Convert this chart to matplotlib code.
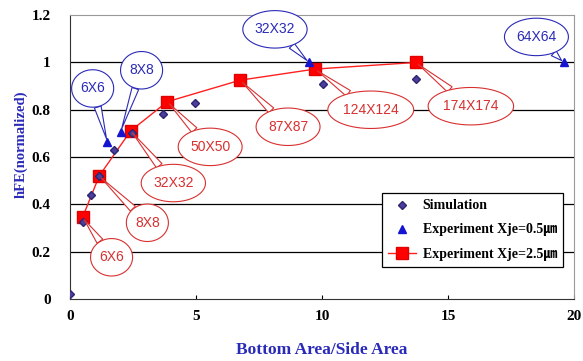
import matplotlib
matplotlib.use("Agg")
import matplotlib.pyplot as plt
import numpy as np
from matplotlib.path import Path

# Simulation
sim_x = [0.0, 0.52, 0.82, 1.15, 1.76, 2.45, 3.70, 4.96, 10.05, 13.72]
sim_y = [0.02, 0.327, 0.44, 0.52, 0.63, 0.70, 0.78, 0.827, 0.908, 0.929]

# Experiment Xje=0.5um
e05_x = [1.48, 2.01, 9.48, 19.58]
e05_y = [0.665, 0.707, 1.0, 1.0]
e05_lab = ["6X6", "8X8", "32X32", "64X64"]
e05_txt = [(0.9, 0.89), (2.84, 0.967), (8.13, 1.14), (18.5, 1.108)]

# Experiment Xje=2.5um
e25_x = [0.50, 1.16, 2.41, 3.86, 6.75, 9.72, 13.72]
e25_y = [0.345, 0.52, 0.711, 0.834, 0.925, 0.972, 1.0]
e25_lab = ["6X6", "8X8", "32X32", "50X50", "87X87", "124X124", "174X174"]
e25_txt = [(1.65, 0.176), (3.07, 0.322), (4.1, 0.49), (5.56, 0.643),
           (8.65, 0.728), (11.93, 0.80), (15.9, 0.815)]

serif = "Liberation Serif"
blue_lab = "#2a2ab8"


def bubble(x0, y0, width, height, mutation_size):
    # ellipse with more room above/below than at the sides
    px = 0.18 * mutation_size
    py = 0.45 * mutation_size
    cx, cy = x0 + width / 2, y0 + height / 2
    a = np.sqrt(2) * (width / 2 + px)
    b = np.sqrt(2) * (height / 2 + py)
    t = np.linspace(0, 2 * np.pi, 60)
    verts = np.column_stack([cx + a * np.cos(t), cy + b * np.sin(t)])
    return Path(verts, closed=True)


def callout(lab, txt, pt, col):
    ax.annotate(lab, xy=pt, xytext=txt, color=col,
                fontsize=10, family="Liberation Sans", ha="center", va="center",
                bbox=dict(boxstyle=bubble, fc="white", ec=col, lw=0.8),
                arrowprops=dict(arrowstyle="wedge,tail_width=0.5", fc="white",
                                ec=col, lw=0.8, shrinkA=0, shrinkB=2),
                zorder=5)


fig = plt.figure(figsize=(5.83, 3.61), dpi=100)
ax = fig.add_axes([0.120, 0.172, 0.865, 0.786])

ax.set_xlim(0, 20)
ax.set_ylim(0, 1.2)
ax.set_xticks([0, 5, 10, 15, 20])
ax.set_yticks([0, 0.2, 0.4, 0.6, 0.8, 1.0, 1.2])
ax.set_yticklabels(["0", "0.2", "0.4", "0.6", "0.8", "1", "1.2"])
for y in [0.2, 0.4, 0.6, 0.8, 1.0]:
    ax.axhline(y, color="black", lw=0.9, zorder=1)

ax.plot(sim_x, sim_y, ls="none", marker="D", ms=4.5, color="#4a3f9c",
        mec="#2e2470", label="Simulation", zorder=4)
ax.plot(e05_x, e05_y, ls="none", marker="^", ms=6, color="#1515d0",
        mec="#1515d0", label="Experiment Xje=0.5㎛", zorder=4)
ax.plot(e25_x, e25_y, color="#ff2020", lw=1.0, marker="s", ms=8.5,
        mfc="#ff0000", mec="#e00000", label="Experiment Xje=2.5㎛", zorder=3)

for lab, txt, px, py in zip(e05_lab, e05_txt, e05_x, e05_y):
    callout(lab, txt, (px, py), "#2a2ab8")
for lab, txt, px, py in zip(e25_lab, e25_txt, e25_x, e25_y):
    callout(lab, txt, (px, py), "#d83030")

for s in ["top", "right"]:
    ax.spines[s].set_color("#999999")
for s in ["left", "bottom"]:
    ax.spines[s].set_color("#333333")
ax.tick_params(axis="x", direction="in", length=3, pad=8)
ax.tick_params(axis="y", length=0, pad=14)
for t in ax.get_xticklabels() + ax.get_yticklabels():
    t.set_family(serif)
    t.set_fontweight("bold")
    t.set_fontsize(11)

ax.set_xlabel("Bottom Area/Side Area", family=serif, fontweight="bold",
              fontsize=12.5, color=blue_lab, labelpad=14)
ax.set_ylabel("hFE(normalized)", family=serif, fontweight="bold",
              fontsize=10.5, color=blue_lab)
ax.yaxis.set_label_coords(-0.084, 0.546)

leg = ax.legend(loc="lower right", bbox_to_anchor=(0.978, 0.113),
                borderaxespad=0,
                fancybox=False, edgecolor="black", framealpha=1,
                prop=dict(family=[serif, "Noto Sans CJK KR"], weight="bold", size=10),
                handlelength=2.0, handletextpad=0.5, borderpad=0.45,
                labelspacing=0.8)
leg.get_frame().set_linewidth(0.9)
leg.set_zorder(6)

fig.savefig("out.png", dpi=100)
